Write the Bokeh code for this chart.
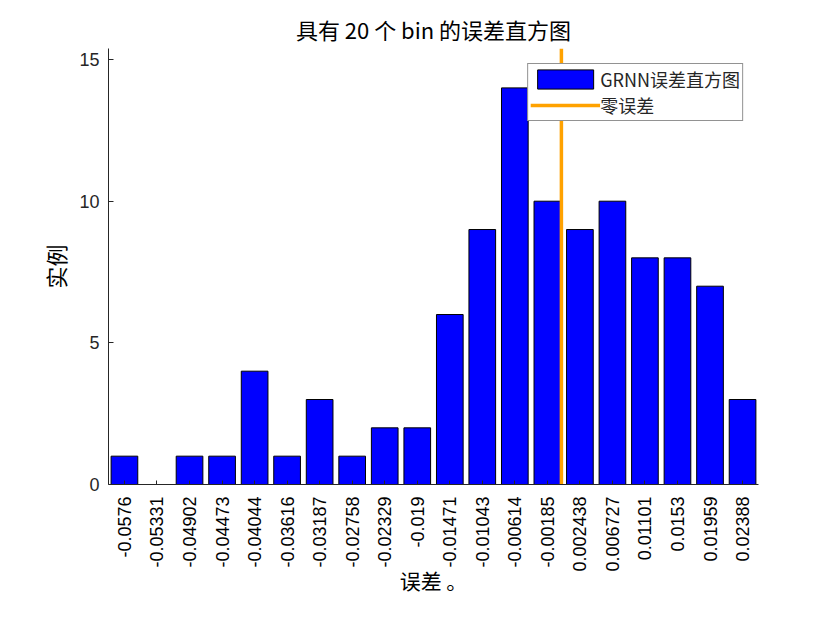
import math
from bokeh.plotting import figure
from bokeh.models import Range1d, FixedTicker, Legend, LegendItem
from bokeh.embed import file_html
from bokeh.resources import INLINE

# ---- data ----
bin_labels = ["-0.0576", "-0.05331", "-0.04902", "-0.04473", "-0.04044",
              "-0.03616", "-0.03187", "-0.02758", "-0.02329", "-0.019",
              "-0.01471", "-0.01043", "-0.00614", "-0.00185", "0.002438",
              "0.006727", "0.01101", "0.0153", "0.01959", "0.02388"]
counts = [1, 0, 1, 1, 4, 1, 3, 1, 2, 2, 6, 9, 14, 10, 9, 10, 8, 8, 7, 3]
zero_error = 0.0
y_ticks = [0, 5, 10, 15]

centers = [float(s) for s in bin_labels]
bin_w = (centers[-1] - centers[0]) / (len(centers) - 1)

FONT = "Noto Sans CJK SC"
NUMFONT = "Liberation Sans"
TXT = "#262626"

y_top = 15.39
p = figure(width=824, height=614, output_backend="svg", toolbar_location=None,
           x_range=Range1d(centers[0] - 0.49 * bin_w, centers[-1] + 0.49 * bin_w),
           y_range=Range1d(0, y_top),
           min_border_left=108, min_border_right=66, min_border_top=48, min_border_bottom=130)

p.title.text = "具有 20 个 bin 的误差直方图"
p.title.align = "center"
p.title.text_font = FONT
p.title.text_font_size = "22px"
p.title.text_font_style = "normal"
p.title.text_color = "black"
p.title.offset = 0
p.title.standoff = 7

p.outline_line_color = None
p.grid.visible = False
p.background_fill_color = "white"

bars = p.vbar(x=centers, top=counts, width=bin_w * 0.82, bottom=0,
              fill_color="#0000FF", line_color="black", line_width=1)
zline = p.line(x=[zero_error, zero_error], y=[0, y_top], line_color="#FFA200", line_width=3.5)

xa = p.xaxis[0]
xa.ticker = FixedTicker(ticks=centers)
xa.major_label_overrides = {c: s for c, s in zip(centers, bin_labels)}
xa.major_label_orientation = math.pi / 2
xa.major_tick_in = 4
xa.major_tick_out = 0
xa.minor_tick_line_color = None
xa.major_label_text_font = NUMFONT
xa.major_label_text_font_size = "18px"
xa.major_label_text_color = "black"
xa.major_label_standoff = 12
xa.axis_line_color = TXT
xa.major_tick_line_color = TXT
xa.axis_label = "误差 。"
xa.axis_label_text_font = FONT
xa.axis_label_text_font_size = "21px"
xa.axis_label_text_font_style = "normal"
xa.axis_label_text_color = "black"
xa.axis_label_standoff = -10

ya = p.yaxis[0]
ya.ticker = FixedTicker(ticks=y_ticks)
ya.major_tick_in = 5
ya.major_tick_out = 0
ya.minor_tick_line_color = None
ya.major_label_text_font = NUMFONT
ya.major_label_text_font_size = "18px"
ya.major_label_text_color = TXT
ya.major_label_standoff = 9
ya.axis_line_color = TXT
ya.major_tick_line_color = TXT
ya.axis_label = "实例"
ya.axis_label_text_font = FONT
ya.axis_label_text_font_size = "22px"
ya.axis_label_text_font_style = "normal"
ya.axis_label_text_color = "black"
ya.axis_label_standoff = 5

legend = Legend(items=[LegendItem(label="GRNN误差直方图", renderers=[bars]),
                       LegendItem(label="零误差", renderers=[zline])],
                location="top_right", margin=15,
                glyph_width=70, glyph_height=24, label_standoff=0,
                padding=2, spacing=0,
                label_text_font=FONT, label_text_font_size="18px",
                label_text_color=TXT,
                border_line_color=TXT, border_line_width=1,
                background_fill_color="white", background_fill_alpha=1)
p.add_layout(legend)

open("out.html", "w").write(file_html(p, INLINE))
